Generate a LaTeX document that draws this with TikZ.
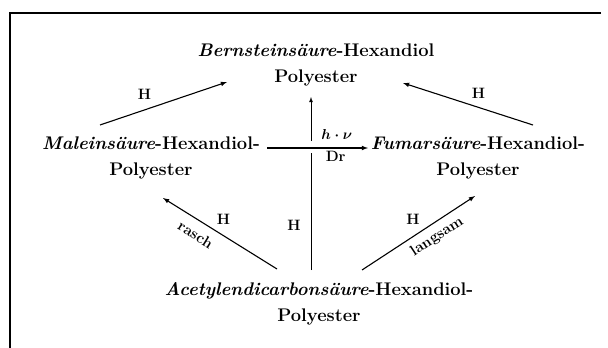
\documentclass[tikz,border=0pt]{standalone}
\usepackage{fontspec}
\usepackage{amsmath}
\usetikzlibrary{arrows}
\tikzset{
  compound/.style={align=center, inner sep=0pt, font=\bfseries\fontsize{18.3}{25.5}\selectfont},
  lbl/.style={inner sep=1pt, font=\bfseries\fontsize{15}{16}\selectfont},
  reac/.style={-latex, line width=1.1pt}
}

\begin{document}
\begin{tikzpicture}[x=1pt,y=-1pt]
  \useasboundingbox (0,0) rectangle (608,348);
  \draw[line width=1.6pt] (601,13) -- (10,13) -- (10,348);

  % compounds
  \node[compound] (bern) at (316,65) {\textit{Bernsteinsäure}-Hexandiol\\Polyester};
  \node[compound] (male) at (151,158) {\textit{Maleinsäure}-Hexandiol-\\Polyester};
  \node[compound] (fuma) at (478,158) {\textit{Fumarsäure}-Hexandiol-\\Polyester};
  \node[compound] (acet) at (319,304) {\textit{Acetylendicarbonsäure}-Hexandiol-\\Polyester};

  \coordinate (mS) at (100,125);  \coordinate (bL) at (227,82);
  \coordinate (fS) at (533,125);  \coordinate (bR) at (403,83);
  \coordinate (aV) at (311,270);  \coordinate (bV) at (311,97);
  \coordinate (cU) at (311,141);  \coordinate (cD) at (311,153);
  \coordinate (mE) at (267,148);  \coordinate (fW) at (368,148);
  \coordinate (aL) at (277,269);  \coordinate (mB) at (163,198);
  \coordinate (aR) at (362,270);  \coordinate (fB) at (475,196);

  \draw[reac] (mS) -- (bL) node[lbl, pos=0.35, above=9pt] {H};
  \draw[reac] (fS) -- (bR) node[lbl, pos=0.42, above=7pt] {H};
  \draw[line width=0.8pt] (aV) -- (cD) node[lbl, pos=0.38, left=9pt] {H};
  \draw[-latex, line width=0.8pt] (cU) -- (bV);
  \draw[reac] (mE) -- (fW)
    node[lbl, pos=0.69, above=7pt] {$\boldsymbol{h\cdot\nu}$}
    node[lbl, pos=0.68, below=2pt] {Dr};
  \draw[reac] (aL) -- (mB)
    node[lbl, pos=0.47, above=10pt] {H}
    node[lbl, pos=0.65, sloped, below=7pt] {rasch};
  \draw[reac] (aR) -- (fB)
    node[lbl, pos=0.45, above=11pt] {H}
    node[lbl, pos=0.6, sloped, below=5pt] {langsam};
\end{tikzpicture}
\end{document}
